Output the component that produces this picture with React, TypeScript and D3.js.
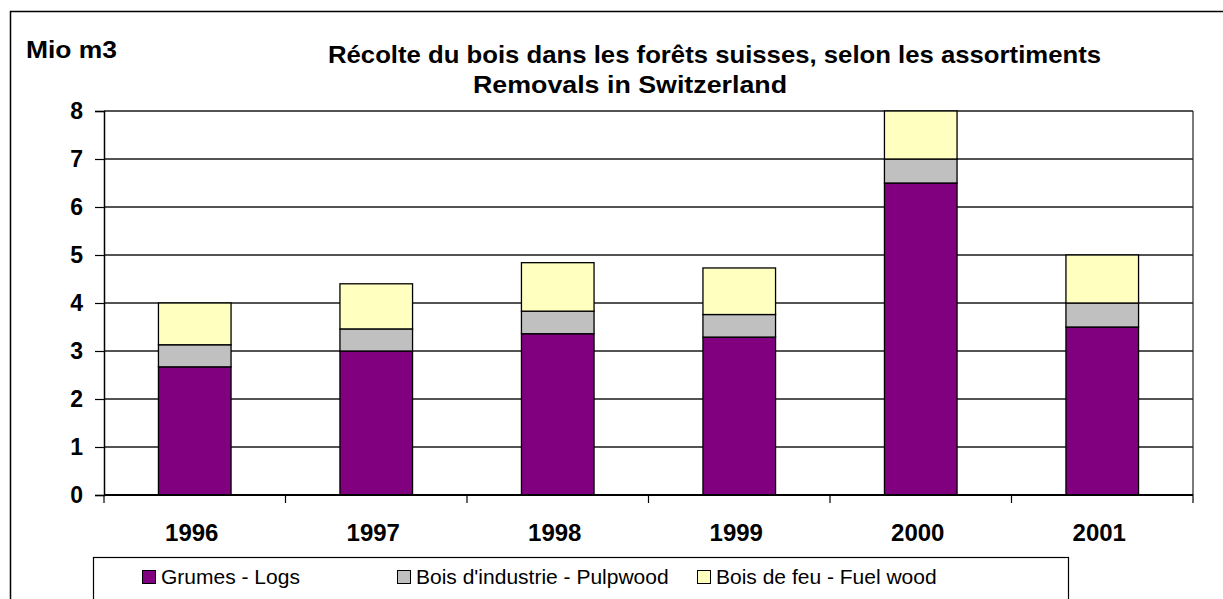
import * as d3 from "d3";
import { useEffect, useRef } from "react";

const years = ["1996", "1997", "1998", "1999", "2000", "2001"];
const logs = [2.67, 3.0, 3.36, 3.29, 6.5, 3.5];
const pulpwood = [0.46, 0.46, 0.47, 0.47, 0.5, 0.5];
const fuelwood = [0.87, 0.94, 1.01, 0.97, 1.0, 1.0];
const seriesNames = ["Grumes - Logs", "Bois d'industrie - Pulpwood", "Bois de feu - Fuel wood"];
const seriesColors = ["#800080", "#c0c0c0", "#ffffc0"];
const yTicks = [0, 1, 2, 3, 4, 5, 6, 7, 8];

const FONT = "Arial, 'Liberation Sans', sans-serif";

export default function App() {
    const ref = useRef<SVGSVGElement | null>(null);

    useEffect(() => {
        if (!ref.current) return;
        const svg = d3.select(ref.current);
        svg.selectAll("*").remove();

        const width = 1223;
        const height = 599;
        const plot = { left: 104, right: 1193, top: 111, bottom: 495 };

        // outer frame (right and bottom edges run off the picture)
        svg.append("rect")
            .attr("x", 10.5)
            .attr("y", 11.5)
            .attr("width", width + 10)
            .attr("height", height + 10)
            .attr("fill", "white")
            .attr("stroke", "black")
            .attr("stroke-width", 1.5);

        const x = d3
            .scaleBand()
            .domain(years)
            .range([plot.left, plot.right])
            .paddingInner(0.6)
            .paddingOuter(0.3);
        const y = d3.scaleLinear().domain([0, 8]).range([plot.bottom, plot.top]);

        // gridlines
        svg.append("g")
            .selectAll("line")
            .data(yTicks.filter((d) => d > 0))
            .join("line")
            .attr("x1", plot.left)
            .attr("x2", plot.right)
            .attr("y1", (d) => y(d))
            .attr("y2", (d) => y(d))
            .attr("stroke", "#1a1a1a")
            .attr("stroke-width", 1.6);

        // right border of plot area
        svg.append("line")
            .attr("x1", plot.right)
            .attr("x2", plot.right)
            .attr("y1", plot.top)
            .attr("y2", plot.bottom)
            .attr("stroke", "#222")
            .attr("stroke-width", 1.2);

        const table = years.map((yr, i) => ({
            year: yr,
            logs: logs[i],
            pulp: pulpwood[i],
            fuel: fuelwood[i],
        }));
        const stacked = d3.stack<any>().keys(["logs", "pulp", "fuel"])(table);

        stacked.forEach((layer, k) => {
            svg.append("g")
                .selectAll("rect")
                .data(layer)
                .join("rect")
                .attr("x", (d) => x(d.data.year)!)
                .attr("width", x.bandwidth())
                .attr("y", (d) => y(d[1]))
                .attr("height", (d) => y(d[0]) - y(d[1]))
                .attr("fill", seriesColors[k])
                .attr("stroke", "black")
                .attr("stroke-width", 1.3);
        });

        // y axis
        const yAxis = svg
            .append("g")
            .attr("transform", `translate(${plot.left},0)`)
            .call(d3.axisLeft(y).tickValues(yTicks).tickSize(9).tickPadding(12).tickFormat(d3.format("d")));
        yAxis.select(".domain").attr("stroke", "black").attr("stroke-width", 1.5);
        yAxis.selectAll(".tick line").attr("stroke", "black").attr("stroke-width", 1.2);
        yAxis
            .selectAll("text")
            .attr("font-family", FONT)
            .attr("font-size", 23)
            .attr("font-weight", "bold")
            .attr("fill", "black");

        // x axis with ticks at category boundaries
        svg.append("line")
            .attr("x1", plot.left)
            .attr("x2", plot.right)
            .attr("y1", plot.bottom)
            .attr("y2", plot.bottom)
            .attr("stroke", "black")
            .attr("stroke-width", 2);
        const bounds = d3.range(years.length + 1).map((i) => plot.left + i * x.step());
        svg.append("g")
            .selectAll("line")
            .data(bounds)
            .join("line")
            .attr("x1", (d) => d)
            .attr("x2", (d) => d)
            .attr("y1", plot.bottom)
            .attr("y2", plot.bottom + 8)
            .attr("stroke", "black")
            .attr("stroke-width", 1.2);
        svg.append("g")
            .selectAll("text")
            .data(years)
            .join("text")
            .attr("x", (d) => x(d)! + x.bandwidth() / 2 - 3)
            .attr("y", 541)
            .attr("text-anchor", "middle")
            .attr("font-family", FONT)
            .attr("font-size", 24)
            .attr("font-weight", "bold")
            .text((d) => d);

        // titles
        svg.append("text")
            .attr("x", 26)
            .attr("y", 58)
            .attr("font-family", FONT)
            .attr("font-size", 24)
            .attr("font-weight", "bold")
            .attr("textLength", 91)
            .attr("lengthAdjust", "spacingAndGlyphs")
            .text("Mio m3");
        svg.append("text")
            .attr("x", 328)
            .attr("y", 63)
            .attr("font-family", FONT)
            .attr("font-size", 24)
            .attr("font-weight", "bold")
            .attr("textLength", 773)
            .attr("lengthAdjust", "spacingAndGlyphs")
            .text("Récolte du bois dans les forêts suisses, selon les assortiments");
        svg.append("text")
            .attr("x", 473)
            .attr("y", 93)
            .attr("font-family", FONT)
            .attr("font-size", 24)
            .attr("font-weight", "bold")
            .attr("textLength", 314)
            .attr("lengthAdjust", "spacingAndGlyphs")
            .text("Removals in Switzerland");

        // legend
        svg.append("rect")
            .attr("x", 93.5)
            .attr("y", 557.5)
            .attr("width", 975)
            .attr("height", 60)
            .attr("fill", "white")
            .attr("stroke", "black")
            .attr("stroke-width", 1.2);
        const legendX = [142, 397, 697];
        seriesNames.forEach((name, i) => {
            svg.append("rect")
                .attr("x", legendX[i] + 0.5)
                .attr("y", 570.5)
                .attr("width", 13)
                .attr("height", 13)
                .attr("fill", seriesColors[i])
                .attr("stroke", "black")
                .attr("stroke-width", 1);
            svg.append("text")
                .attr("x", legendX[i] + 19)
                .attr("y", 584)
                .attr("font-family", FONT)
                .attr("font-size", 21)
                .text(name);
        });
    }, []);

    return (
        <svg
            ref={ref}
            width={1223}
            height={599}
            style={{ position: "absolute", left: 0, top: 0, display: "block" }}
        ></svg>
    );
}
